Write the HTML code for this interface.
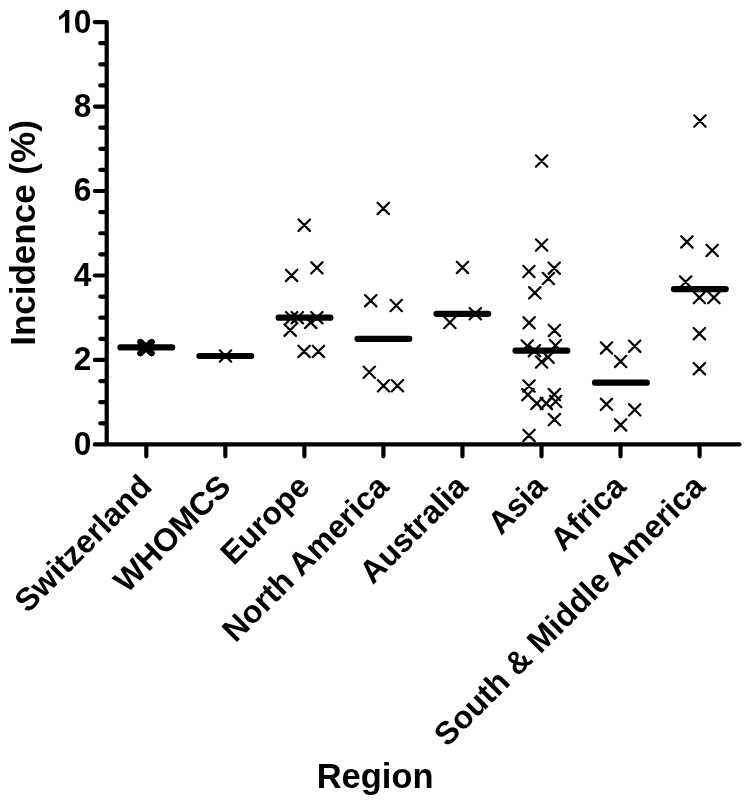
<!DOCTYPE html>
<html><head><meta charset="utf-8"><style>
html,body{margin:0;padding:0;background:#fff;width:750px;height:800px;overflow:hidden}
svg{display:block;will-change:transform}
.t{font-family:"Liberation Sans",sans-serif;font-weight:bold;font-size:32px;fill:#000}
.yt{font-family:"Liberation Sans",sans-serif;font-weight:bold;font-size:33px;fill:#000}
.a{font-family:"Liberation Sans",sans-serif;font-weight:bold;font-size:35px;fill:#000}
</style></head><body>
<svg width="750" height="800" viewBox="0 0 750 800">
<path d="M140.30 341.90L151.70 353.30M140.30 353.30L151.70 341.90M142.60 341.90L154.00 353.30M142.60 353.30L154.00 341.90M138.00 341.90L149.40 353.30M138.00 353.30L149.40 341.90M140.30 344.00L151.70 355.40M140.30 355.40L151.70 344.00M140.30 339.80L151.70 351.20M140.30 351.20L151.70 339.80M141.90 343.40L153.30 354.80M141.90 354.80L153.30 343.40M138.70 343.40L150.10 354.80M138.70 354.80L150.10 343.40M141.90 340.40L153.30 351.80M141.90 351.80L153.30 340.40M138.70 340.40L150.10 351.80M138.70 351.80L150.10 340.40M219.80 350.30L231.20 361.70M219.80 361.70L231.20 350.30M298.60 219.50L310.00 230.90M298.60 230.90L310.00 219.50M311.20 262.10L322.60 273.50M311.20 273.50L322.60 262.10M285.90 269.70L297.30 281.10M285.90 281.10L297.30 269.70M286.00 312.00L297.40 323.40M286.00 323.40L297.40 312.00M291.60 312.00L303.00 323.40M291.60 323.40L303.00 312.00M311.10 312.00L322.50 323.40M311.10 323.40L322.50 312.00M305.00 316.70L316.40 328.10M305.00 328.10L316.40 316.70M284.50 324.50L295.90 335.90M284.50 335.90L295.90 324.50M298.40 345.70L309.80 357.10M298.40 357.10L309.80 345.70M312.70 345.70L324.10 357.10M312.70 357.10L324.10 345.70M377.60 202.70L389.00 214.10M377.60 214.10L389.00 202.70M365.05 295.00L376.45 306.40M365.05 306.40L376.45 295.00M390.55 299.80L401.95 311.20M390.55 311.20L401.95 299.80M363.55 366.55L374.95 377.95M363.55 377.95L374.95 366.55M377.80 380.05L389.20 391.45M377.80 391.45L389.20 380.05M391.75 380.05L403.15 391.45M391.75 391.45L403.15 380.05M456.80 261.70L468.20 273.10M456.80 273.10L468.20 261.70M469.60 308.00L481.00 319.40M469.60 319.40L481.00 308.00M444.20 316.80L455.60 328.20M444.20 328.20L455.60 316.80M535.90 155.30L547.30 166.70M535.90 166.70L547.30 155.30M535.90 239.30L547.30 250.70M535.90 250.70L547.30 239.30M523.20 265.80L534.60 277.20M523.20 277.20L534.60 265.80M548.50 262.50L559.90 273.90M548.50 273.90L559.90 262.50M542.70 272.80L554.10 284.20M542.70 284.20L554.10 272.80M529.10 287.10L540.50 298.50M529.10 298.50L540.50 287.10M523.40 317.10L534.80 328.50M523.40 328.50L534.80 317.10M548.70 324.70L560.10 336.10M548.70 336.10L560.10 324.70M521.60 340.20L533.00 351.60M521.60 351.60L533.00 340.20M549.80 339.80L561.20 351.20M549.80 351.20L561.20 339.80M528.70 345.00L540.10 356.40M528.70 356.40L540.10 345.00M535.90 356.30L547.30 367.70M535.90 367.70L547.30 356.30M542.40 351.50L553.80 362.90M542.40 362.90L553.80 351.50M523.30 380.30L534.70 391.70M523.30 391.70L534.70 380.30M522.20 389.00L533.60 400.40M522.20 400.40L533.60 389.00M531.20 397.70L542.60 409.10M531.20 409.10L542.60 397.70M540.60 397.70L552.00 409.10M540.60 409.10L552.00 397.70M548.60 388.90L560.00 400.30M548.60 400.30L560.00 388.90M550.00 395.80L561.40 407.20M550.00 407.20L561.40 395.80M548.70 413.90L560.10 425.30M548.70 425.30L560.10 413.90M523.30 429.70L534.70 441.10M523.30 441.10L534.70 429.70M600.80 342.20L612.20 353.60M600.80 353.60L612.20 342.20M629.00 340.50L640.40 351.90M629.00 351.90L640.40 340.50M614.90 355.70L626.30 367.10M614.90 367.10L626.30 355.70M600.80 398.60L612.20 410.00M600.80 410.00L612.20 398.60M629.00 404.10L640.40 415.50M629.00 415.50L640.40 404.10M614.90 419.20L626.30 430.60M614.90 430.60L626.30 419.20M694.20 115.30L705.60 126.70M694.20 126.70L705.60 115.30M681.20 236.20L692.60 247.60M681.20 247.60L692.60 236.20M706.50 244.70L717.90 256.10M706.50 256.10L717.90 244.70M679.90 276.30L691.30 287.70M679.90 287.70L691.30 276.30M693.70 291.90L705.10 303.30M693.70 303.30L705.10 291.90M708.20 291.90L719.60 303.30M708.20 303.30L719.60 291.90M693.70 328.00L705.10 339.40M693.70 339.40L705.10 328.00M693.70 363.00L705.10 374.40M693.70 374.40L705.10 363.00" stroke="#000" stroke-width="2.2" stroke-linecap="round" fill="none"/>
<path d="M120.40 347.40H172.20M199.44 356.00H251.24M278.60 317.70H330.40M357.50 338.80H409.30M436.50 313.80H488.30M515.50 350.70H567.30M595.00 382.70H646.80M673.95 289.10H725.75" stroke="#000" stroke-width="6.2" stroke-linecap="round" fill="none"/>
<path d="M106.70 22.10V444.40M94.9 444.40H739.5M94.8 444.40H106.70M100.2 423.28H106.70M100.2 402.17H106.70M100.2 381.05H106.70M94.8 359.94H106.70M100.2 338.82H106.70M100.2 317.71H106.70M100.2 296.60H106.70M94.8 275.48H106.70M100.2 254.36H106.70M100.2 233.25H106.70M100.2 212.13H106.70M94.8 191.02H106.70M100.2 169.90H106.70M100.2 148.79H106.70M100.2 127.68H106.70M94.8 106.56H106.70M100.2 85.44H106.70M100.2 64.33H106.70M100.2 43.22H106.70M94.8 22.10H106.70M146.30 444.40V456.3M225.34 444.40V456.3M304.38 444.40V456.3M383.42 444.40V456.3M462.46 444.40V456.3M541.50 444.40V456.3M620.54 444.40V456.3M699.58 444.40V456.3" stroke="#000" stroke-width="4.2" stroke-linecap="round" stroke-linejoin="round" fill="none"/>
<text transform="translate(91.3 454.85) scale(0.96 1)" text-anchor="end" class="yt">0</text>
<text transform="translate(91.3 370.39) scale(0.96 1)" text-anchor="end" class="yt">2</text>
<text transform="translate(91.3 285.93) scale(0.96 1)" text-anchor="end" class="yt">4</text>
<text transform="translate(91.3 201.47) scale(0.96 1)" text-anchor="end" class="yt">6</text>
<text transform="translate(91.3 117.01) scale(0.96 1)" text-anchor="end" class="yt">8</text>
<text transform="translate(91.3 32.55) scale(0.96 1)" text-anchor="end" class="yt">0</text>
<path d="M69.3 10.1H65.4C64.0 12.8 61.6 15.2 59.0 16.5V20.0C61.2 19.2 63.3 17.8 65.0 16.3V32.7H69.3Z" fill="#000"/>
<text x="153.50" y="488.30" text-anchor="end" class="t" transform="rotate(-45 153.50 488.30)">Switzerland</text>
<text x="232.54" y="488.30" text-anchor="end" class="t" transform="rotate(-45 232.54 488.30)">WHOMCS</text>
<text x="311.58" y="488.30" text-anchor="end" class="t" transform="rotate(-45 311.58 488.30)">Europe</text>
<text x="390.62" y="488.30" text-anchor="end" class="t" transform="rotate(-45 390.62 488.30)">North America</text>
<text x="469.66" y="488.30" text-anchor="end" class="t" transform="rotate(-45 469.66 488.30)">Australia</text>
<text x="548.70" y="488.30" text-anchor="end" class="t" transform="rotate(-45 548.70 488.30)">Asia</text>
<text x="627.74" y="488.30" text-anchor="end" class="t" transform="rotate(-45 627.74 488.30)">Africa</text>
<text x="706.78" y="488.30" text-anchor="end" class="t" transform="rotate(-45 706.78 488.30)">South &amp; Middle America</text>
<text transform="translate(34.9 345.8) rotate(-90) scale(1 1.025)" class="a">Incidence (%)</text>
<text transform="translate(316.7 787.5) scale(1 1.025)" class="a" style="font-size:34.5px">Region</text>
</svg>
</body></html>
